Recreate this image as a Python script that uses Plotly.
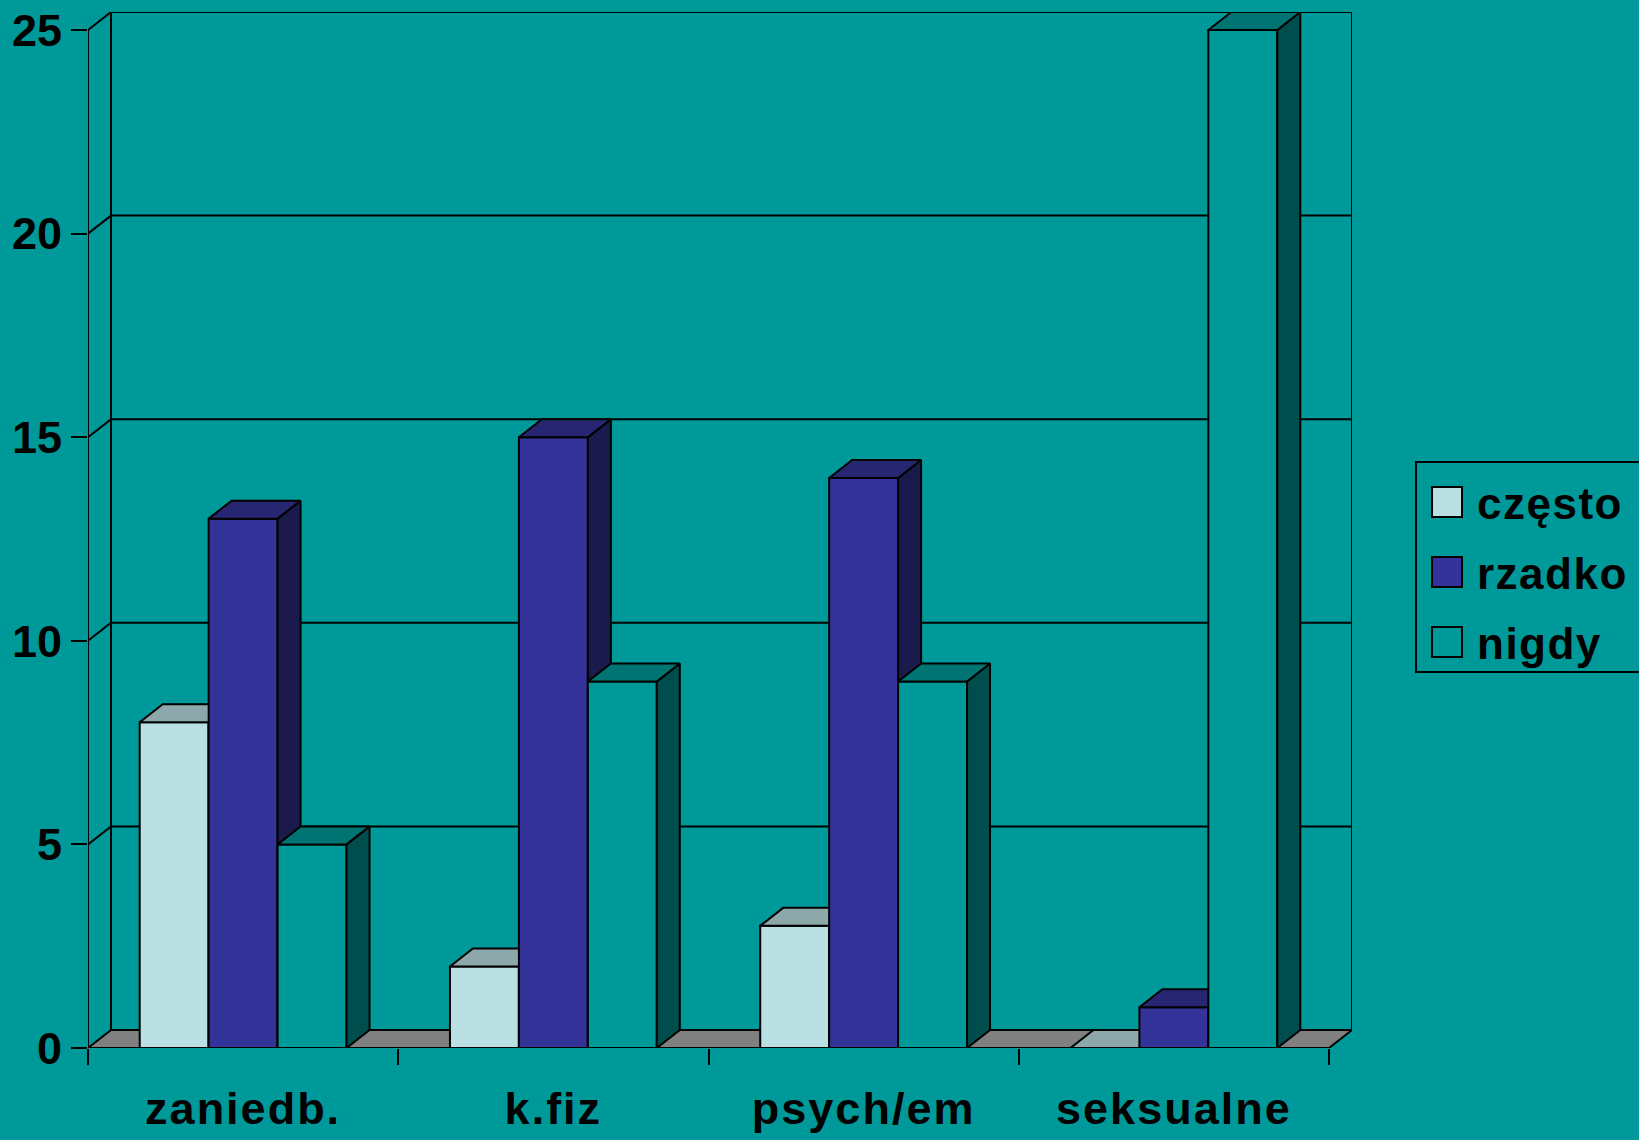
import plotly.graph_objects as go

categories = ["zaniedb.", "k.fiz", "psych/em", "seksualne"]
series_names = ["często", "rzadko", "nigdy"]
czesto = [8, 2, 3, 0]
rzadko = [13, 15, 14, 1]
nigdy = [5, 9, 9, 25]
y_ticks = [0, 5, 10, 15, 20, 25]

BG = "#009999"
front_colors = ["#BBE0E3", "#333399", "#009999"]
top_colors = ["#8CA8AA", "#262673", "#007373"]
side_colors = ["#5E7072", "#1A1A4D", "#004D4D"]
FLOOR = "#808080"

WIDTH, HEIGHT = 1639, 1140
LEFT, RIGHT, TOP, BOTTOM = 88, 287, 12, 92
LW = 2

# depth of the fake 3d box, in axis units (23px across, 18px up)
DX = 23 / 310.2
DY = 18 / 40.72
XMAX = len(categories)
YMAX = y_ticks[-1]
BAR_W = 2 / 9
BAR_START = 1 / 6

FONT = "Liberation Sans"


def spaced(text, px):
    return f'<span style="letter-spacing:{px}px">{text}</span>'


def px_x(px):
    return (px - LEFT) / (WIDTH - LEFT - RIGHT)


def px_y(px):
    return 1 - (px - TOP) / (HEIGHT - TOP - BOTTOM)


fig = go.Figure()


def wall(xs, ys, fill=None):
    fig.add_trace(go.Scatter(
        x=xs, y=ys, mode="lines",
        line=dict(color="black", width=LW),
        fill="toself" if fill else None, fillcolor=fill,
        cliponaxis=False, hoverinfo="skip", showlegend=False,
    ))


# floor, back wall and gridlines
wall([0, DX, XMAX + DX, XMAX, 0], [0, DY, DY, 0, 0], FLOOR)
wall([0, 0], [0, YMAX])
wall([DX, DX], [DY, YMAX + DY])
wall([XMAX + DX, XMAX + DX], [DY, YMAX + DY])
for v in y_ticks[1:]:
    wall([0, DX, XMAX + DX], [v, v + DY, v + DY])

# each series sits on its own overlaid axes so later bars cover earlier depth faces
for s, values in enumerate([czesto, rzadko, nigdy]):
    ax = str(s + 2)
    lefts = [i + BAR_START + s * BAR_W for i in range(len(categories))]
    fig.add_trace(go.Bar(
        x=lefts, y=values, width=BAR_W, offset=0, name=series_names[s],
        marker=dict(color=front_colors[s], line=dict(color="black", width=LW)),
        cliponaxis=False, xaxis="x" + ax, yaxis="y" + ax, showlegend=False,
    ))
    top_x, top_y, side_x, side_y = [], [], [], []
    for left, v in zip(lefts, values):
        r = left + BAR_W
        top_x += [left, left + DX, r + DX, r, left, None]
        top_y += [v, v + DY, v + DY, v, v, None]
        side_x += [r, r + DX, r + DX, r, r, None]
        side_y += [0, DY, v + DY, v, 0, None]
    for xs, ys, color in [(side_x, side_y, side_colors[s]), (top_x, top_y, top_colors[s])]:
        fig.add_trace(go.Scatter(
            x=xs, y=ys, mode="lines", fill="toself", fillcolor=color,
            line=dict(color="black", width=LW), cliponaxis=False,
            xaxis="x" + ax, yaxis="y" + ax, hoverinfo="skip", showlegend=False,
        ))

fig.update_layout(
    width=WIDTH, height=HEIGHT,
    margin=dict(l=LEFT, r=RIGHT, t=TOP, b=BOTTOM, pad=0),
    paper_bgcolor=BG, plot_bgcolor=BG,
    showlegend=False,
    xaxis=dict(
        range=[0, XMAX + DX], showgrid=False, zeroline=False, showline=False,
        automargin=False,
        tickmode="array",
        tickvals=[i + 0.5 for i in range(len(categories))],
        ticktext=[spaced(c, 2) for c in categories],
        ticks="", ticklabelstandoff=30,
        tickfont=dict(family=FONT, size=45, color="black", weight=700),
        minor=dict(
            tickmode="array", tickvals=list(range(XMAX + 1)),
            ticks="outside", ticklen=16, tickwidth=LW, tickcolor="black",
            showgrid=False,
        ),
    ),
    yaxis=dict(
        range=[0, YMAX + DY], showgrid=False, zeroline=False, showline=False,
        automargin=False,
        tickmode="array", tickvals=y_ticks,
        ticks="outside", ticklen=16, tickwidth=LW, tickcolor="black",
        tickfont=dict(family=FONT, size=45, color="black", weight=700),
    ),
)
for n in ["2", "3", "4"]:
    fig.update_layout({
        "xaxis" + n: dict(range=[0, XMAX + DX], overlaying="x", visible=False),
        "yaxis" + n: dict(range=[0, YMAX + DY], overlaying="y", visible=False),
    })

# legend box runs off the right edge of the picture, drawn by hand
shapes = [dict(
    type="rect", xref="paper", yref="paper",
    x0=px_x(1416), x1=px_x(WIDTH + 10), y0=px_y(672), y1=px_y(462),
    line=dict(color="black", width=LW), fillcolor=BG,
)]
annotations = []
for s, name in enumerate(series_names):
    cy = 502 + s * 70
    shapes.append(dict(
        type="rect", xref="paper", yref="paper",
        x0=px_x(1432), x1=px_x(1462), y0=px_y(cy + 15), y1=px_y(cy - 15),
        line=dict(color="black", width=LW), fillcolor=front_colors[s],
    ))
    annotations.append(dict(
        xref="paper", yref="paper", x=px_x(1475), y=px_y(cy + 1),
        xanchor="left", yanchor="middle", showarrow=False,
        text=spaced(name, 1.5),
        font=dict(family=FONT, size=44, color="black", weight=700),
    ))
fig.update_layout(shapes=shapes, annotations=annotations)

fig.write_html(
    "out.html", config=dict(displayModeBar=False),
    post_script="document.body.style.margin='0';document.body.style.overflow='hidden';",
)
